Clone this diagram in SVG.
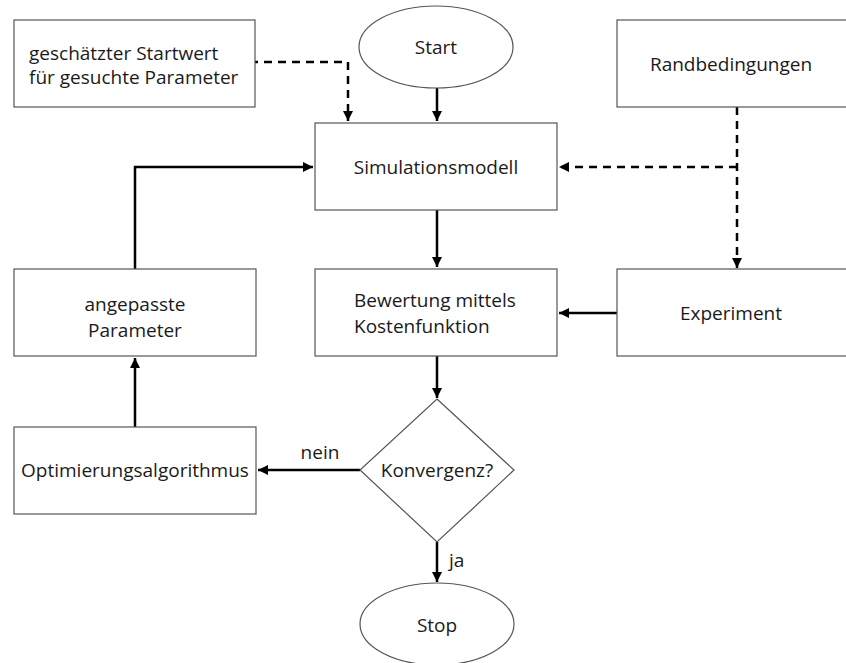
<svg xmlns="http://www.w3.org/2000/svg" width="846" height="663" viewBox="0 0 846 663">
<style>
.n{fill:#fff;stroke:#555;stroke-width:1.2}
.t{font-family:"Open Sans","Noto Sans",sans-serif;font-size:19px;fill:#1a1a1a}
.c{text-anchor:middle}
.e{fill:none;stroke:#000;stroke-width:2.5}
.d{stroke-dasharray:8 6}
</style>
<defs>
<marker id="a" viewBox="0 0 10 10" refX="10" refY="5" markerWidth="4" markerHeight="4" orient="auto" markerUnits="strokeWidth">
<path d="M0,0 L10,5 L0,10 z" fill="#000"/>
</marker>
</defs>
<rect width="846" height="663" fill="#fff"/>
<g id="connectors">
<path class="e d" d="M250,62 H348 V121" marker-end="url(#a)"/>
<path class="e" d="M437,88 V121" marker-end="url(#a)"/>
<path class="e d" d="M737,107 V268" marker-end="url(#a)"/>
<path class="e d" d="M737,167 H559" marker-end="url(#a)"/>
<path class="e" d="M135,269 V167 H313" marker-end="url(#a)"/>
<path class="e" d="M437,210 V267" marker-end="url(#a)"/>
<path class="e" d="M617,313 H559" marker-end="url(#a)"/>
<path class="e" d="M437,356 V398" marker-end="url(#a)"/>
<path class="e" d="M360,470 H258" marker-end="url(#a)"/>
<path class="e" d="M135,427 V358" marker-end="url(#a)"/>
<path class="e" d="M437,542 V582" marker-end="url(#a)"/>
<text class="t c" x="320" y="459">nein</text>
<text class="t" x="449" y="567">ja</text>
</g>
<g id="startwert">
<rect class="n" x="14" y="20" width="241" height="87"/>
<text class="t" x="29" y="60">geschätzter Startwert</text>
<text class="t" x="29" y="84">für gesuchte Parameter</text>
</g>
<g id="start">
<ellipse class="n" cx="436" cy="47" rx="77" ry="41"/>
<text class="t c" x="436" y="54">Start</text>
</g>
<g id="randbedingungen">
<rect class="n" x="617" y="20" width="240" height="87"/>
<text class="t c" x="731" y="71">Randbedingungen</text>
</g>
<g id="simulationsmodell">
<rect class="n" x="315" y="123" width="242" height="87"/>
<text class="t c" x="436" y="174">Simulationsmodell</text>
</g>
<g id="angepasste">
<rect class="n" x="14" y="269" width="242" height="87"/>
<text class="t c" x="135" y="311">angepasste</text>
<text class="t c" x="135" y="337">Parameter</text>
</g>
<g id="bewertung">
<rect class="n" x="315" y="269" width="242" height="87"/>
<text class="t" x="354" y="307">Bewertung mittels</text>
<text class="t" x="354" y="333">Kostenfunktion</text>
</g>
<g id="experiment">
<rect class="n" x="617" y="269" width="240" height="87"/>
<text class="t c" x="731" y="320">Experiment</text>
</g>
<g id="konvergenz">
<path class="n" d="M437,399 L514,470 L437,542 L360,470 Z"/>
<text class="t c" x="437" y="477">Konvergenz?</text>
</g>
<g id="optimierung">
<rect class="n" x="14" y="427" width="242" height="87"/>
<text class="t c" x="135" y="477">Optimierungsalgorithmus</text>
</g>
<g id="stop">
<ellipse class="n" cx="437" cy="624" rx="77" ry="41"/>
<text class="t c" x="437" y="632">Stop</text>
</g>
</svg>
